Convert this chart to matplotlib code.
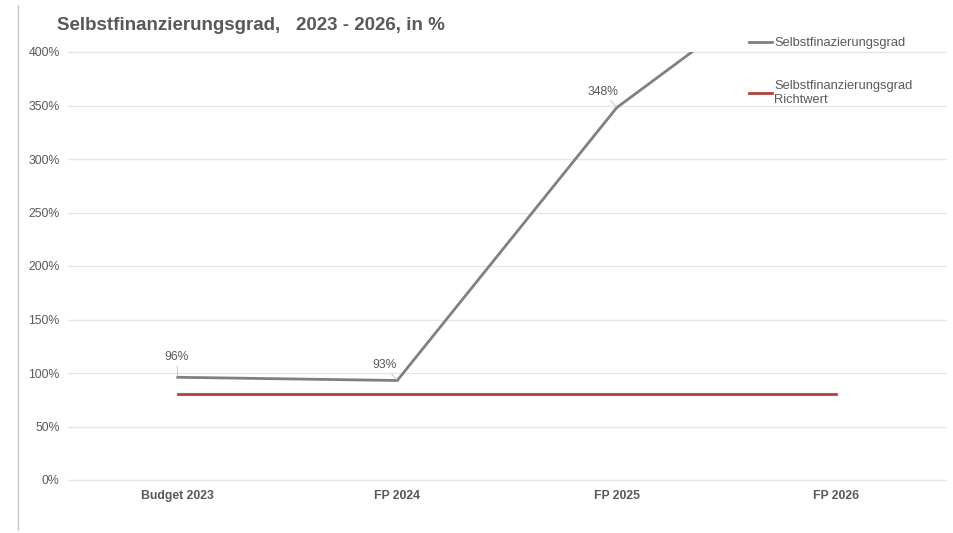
import matplotlib
matplotlib.use("Agg")
import matplotlib.pyplot as plt
from matplotlib.lines import Line2D
from matplotlib.ticker import FuncFormatter

plt.rcParams['font.family'] = ['Liberation Sans', 'DejaVu Sans']

# Data
categories = ["Budget 2023", "FP 2024", "FP 2025", "FP 2026"]
selbstfinanzierungsgrad = [96, 93, 348, 500]
richtwert = [80, 80, 80, 80]
labelled_points = [0, 1, 2]
label_offsets = [(-0.7, 14.5), (-9.5, 11), (-10, 11.5)]
y_ticks = [0, 50, 100, 150, 200, 250, 300, 350, 400]

TEXT = "#595959"
GRID = "#e6e6e6"
GREY_LINE = "#808080"
RED_LINE = "#b5403c"

fig = plt.figure(figsize=(9.54, 5.33), dpi=100)
ax = fig.add_axes([68 / 954, 1 - 480 / 533, 878 / 954, 428 / 533])

x = list(range(len(categories)))
ax.plot(x, selbstfinanzierungsgrad, color=GREY_LINE, lw=2.0, solid_joinstyle='miter',
        label="Selbstfinazierungsgrad", zorder=3)
ax.plot(x, richtwert, color=RED_LINE, lw=2.0,
        label="Selbstfinanzierungsgrad\nRichtwert", zorder=3)

for i, (dx, dy) in zip(labelled_points, label_offsets):
    v = selbstfinanzierungsgrad[i]
    ax.annotate(f"{v}%", xy=(x[i], v), xytext=(dx, dy), textcoords='offset points',
                ha='center', va='center', fontsize=8.7, color=TEXT,
                arrowprops=dict(arrowstyle='-', color='#c8c8c8', lw=0.7,
                                shrinkA=0, shrinkB=1))

ax.set_xlim(-0.5, len(categories) - 0.5)
ax.set_ylim(0, 400)
ax.set_yticks(y_ticks)
ax.yaxis.set_major_formatter(FuncFormatter(lambda v, p: f"{v:.0f}%"))
ax.set_xticks(x)
ax.set_xticklabels(categories, fontweight='bold')
ax.tick_params(axis='y', length=0, pad=6, labelsize=8.8, labelcolor=TEXT)
ax.tick_params(axis='x', length=0, pad=7, labelsize=8.8, labelcolor=TEXT)
ax.grid(axis='y', color=GRID, lw=1)
for gl in ax.get_ygridlines():
    gl.set_clip_on(False)
ax.set_axisbelow(True)
for s in ax.spines.values():
    s.set_visible(False)

fig.text(57 / 954, 1 - 25 / 533, "Selbstfinanzierungsgrad,   2023 - 2026, in %",
         fontsize=13.5, fontweight='bold', color=TEXT, ha='left', va='center')

leg = ax.legend(loc='upper left', bbox_to_anchor=(749 / 954, 1 - 37 / 533),
                bbox_transform=fig.transFigure, frameon=False, fontsize=9.3,
                handlelength=1.75, handletextpad=0.2, labelspacing=2.4,
                borderaxespad=0, borderpad=0)
for t in leg.get_texts():
    t.set_color(TEXT)

# Thin frame line at the left edge of the figure
fig.add_artist(Line2D([18 / 954, 18 / 954], [1 - 5 / 533, 1 - 530 / 533],
                      transform=fig.transFigure, color='#c8c8c8', lw=1))

fig.savefig("out.png", dpi=100, facecolor='white')
